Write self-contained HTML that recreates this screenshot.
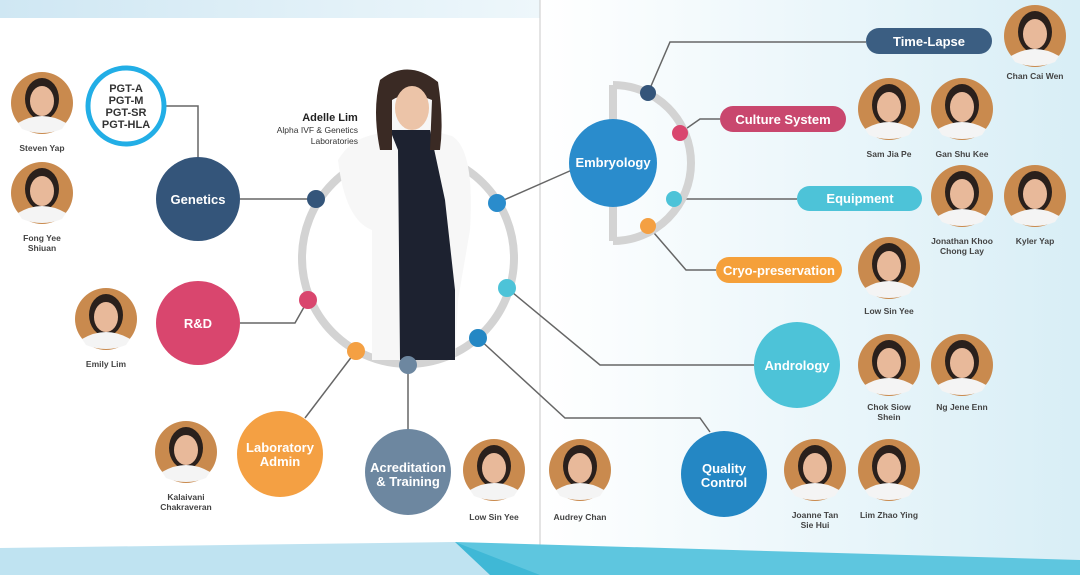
<!DOCTYPE html>
<html><head><style>
body{margin:0;width:1080px;height:575px;overflow:hidden;background:#fff;font-family:"Liberation Sans",sans-serif}
svg text{font-family:"Liberation Sans",sans-serif}
</style></head><body>
<svg width="1080" height="575" viewBox="0 0 1080 575" xmlns="http://www.w3.org/2000/svg">
<defs>
<linearGradient id="rg" x1="0" x2="1" y1="0" y2="0"><stop offset="0" stop-color="#fff"/><stop offset="1" stop-color="#d8eef6"/></linearGradient>
<linearGradient id="tg" x1="0" x2="1"><stop offset="0" stop-color="#cfe7f3"/><stop offset="1" stop-color="#eef7fb"/></linearGradient>
<g id="p"><circle r="31" fill="#c98a4e"/><ellipse cy="-4" rx="17" ry="21" fill="#2a201c"/><ellipse cy="-2" rx="12" ry="15" fill="#e8b99a"/><path d="M-24 20 Q0 6 24 20 L20 26 Q0 34 -20 26Z" fill="#f4f4f4"/></g>
</defs>
<rect x="540" y="0" width="540" height="575" fill="url(#rg)"/>
<rect x="0" y="0" width="540" height="18" fill="url(#tg)"/>
<line x1="540" y1="0" x2="540" y2="575" stroke="#c8c8c8" stroke-width="1"/>
<polygon points="0,548 455,542 540,575 0,575" fill="#bfe3f1"/>
<polygon points="455,542 1080,560 1080,575 510,575" fill="#5ec6df"/>
<polygon points="455,542 540,575 490,575" fill="#3fb8d6"/>
<!-- connectors -->
<g stroke="#666" stroke-width="1.5" fill="none">
<polyline points="166,106 198,106 198,157"/>
<line x1="240" y1="199" x2="316" y2="199"/>
<polyline points="240,323 295,323 308,300"/>
<line x1="305" y1="418" x2="356" y2="351"/>
<line x1="408" y1="430" x2="408" y2="365"/>
<line x1="497" y1="203" x2="572" y2="170"/>
<polyline points="507,288 600,365 754,365"/>
<polyline points="478,338 565,418 700,418 710,432"/>
<polyline points="648,93 670,42 866,42"/>
<polyline points="680,133 700,119 720,119"/>
<line x1="674" y1="199" x2="797" y2="199"/>
<polyline points="648,226 686,270 716,270"/>
</g>
<!-- central ring -->
<circle cx="408" cy="258" r="106" fill="none" stroke="#d3d3d3" stroke-width="8"/>
<!-- woman -->
<path d="M372 360 L372 230 Q345 220 338 160 Q350 140 372 135 L390 130 Q378 100 385 80 Q405 62 430 78 Q440 100 430 130 L452 136 Q475 150 470 230 L458 300 L455 360Z" fill="#f7f7f7"/>
<path d="M390 130 L398 150 L400 360 L455 360 L455 290 L445 200 L430 130Z" fill="#1d2230"/>
<path d="M380 80 Q408 58 438 82 Q444 120 440 150 L430 150 L432 100 Q408 90 392 100 L392 150 L380 150 Q372 110 380 80Z" fill="#3a2a24"/>
<ellipse cx="412" cy="108" rx="17" ry="22" fill="#ecc4a8"/>
<!-- embryology arc -->
<path d="M613 85 A78 78 0 0 1 613 241" fill="none" stroke="#d3d3d3" stroke-width="8"/>
<line x1="613" y1="85" x2="613" y2="241" stroke="#d3d3d3" stroke-width="8"/>
<!-- dots -->
<circle cx="316" cy="199" r="9" fill="#34557a"/>
<circle cx="308" cy="300" r="9" fill="#d9466e"/>
<circle cx="356" cy="351" r="9" fill="#f4a043"/>
<circle cx="408" cy="365" r="9" fill="#6d87a0"/>
<circle cx="478" cy="338" r="9" fill="#2487c4"/>
<circle cx="507" cy="288" r="9" fill="#4dc3d8"/>
<circle cx="497" cy="203" r="9" fill="#2a8ccc"/>
<circle cx="648" cy="93" r="8" fill="#34557a"/>
<circle cx="680" cy="133" r="8" fill="#d9466e"/>
<circle cx="674" cy="199" r="8" fill="#4dc3d8"/>
<circle cx="648" cy="226" r="8" fill="#f4a043"/>
<!-- main circles -->
<g font-weight="bold" fill="#fff" font-size="13" text-anchor="middle">
<circle cx="126" cy="106" r="38" fill="#fff" stroke="#22aee6" stroke-width="5"/>
<text x="126" y="92" fill="#333" font-size="11">PGT-A</text><text x="126" y="104" fill="#333" font-size="11">PGT-M</text><text x="126" y="116" fill="#333" font-size="11">PGT-SR</text><text x="126" y="128" fill="#333" font-size="11">PGT-HLA</text>
<circle cx="198" cy="199" r="42" fill="#34557a"/><text x="198" y="204">Genetics</text>
<circle cx="198" cy="323" r="42" fill="#d9466e"/><text x="198" y="328">R&amp;D</text>
<circle cx="280" cy="454" r="43" fill="#f4a043"/><text x="280" y="452">Laboratory</text><text x="280" y="466">Admin</text>
<circle cx="408" cy="472" r="43" fill="#6d87a0"/><text x="408" y="472">Acreditation</text><text x="408" y="486">&amp; Training</text>
<circle cx="613" cy="163" r="44" fill="#2a8ccc"/><text x="613" y="167">Embryology</text>
<circle cx="797" cy="365" r="43" fill="#4dc3d8"/><text x="797" y="370">Andrology</text>
<circle cx="724" cy="474" r="43" fill="#2487c4"/><text x="724" y="473">Quality</text><text x="724" y="487">Control</text>
<rect x="866" y="28" width="126" height="26" rx="13" fill="#3b5e82"/><text x="929" y="46">Time-Lapse</text>
<rect x="720" y="106" width="126" height="26" rx="13" fill="#c9476e"/><text x="783" y="124">Culture System</text>
<rect x="797" y="186" width="125" height="25" rx="12.5" fill="#4dc3d8"/><text x="860" y="203">Equipment</text>
<rect x="716" y="257" width="126" height="26" rx="13" fill="#f5a03a"/><text x="779" y="275">Cryo-preservation</text>
</g>
<text x="330" y="121" text-anchor="middle" font-size="11" font-weight="bold" fill="#222">Adelle Lim</text>
<text x="358" y="133" text-anchor="end" font-size="8.5" fill="#333">Alpha IVF &amp; Genetics</text>
<text x="358" y="144" text-anchor="end" font-size="8.5" fill="#333">Laboratories</text>
<!-- portraits -->
<use href="#p" x="42" y="103"/><use href="#p" x="42" y="193"/><use href="#p" x="106" y="319"/><use href="#p" x="186" y="452"/>
<use href="#p" x="494" y="470"/><use href="#p" x="580" y="470"/><use href="#p" x="815" y="470"/><use href="#p" x="889" y="470"/>
<use href="#p" x="889" y="365"/><use href="#p" x="962" y="365"/><use href="#p" x="889" y="268"/><use href="#p" x="962" y="196"/>
<use href="#p" x="1035" y="196"/><use href="#p" x="889" y="109"/><use href="#p" x="962" y="109"/><use href="#p" x="1035" y="36"/>
<g font-size="8.5" fill="#444" text-anchor="middle" font-weight="bold">
<text x="42" y="151">Steven Yap</text>
<text x="42" y="241">Fong Yee</text><text x="42" y="251">Shiuan</text>
<text x="106" y="367">Emily Lim</text>
<text x="186" y="500">Kalaivani</text><text x="186" y="510">Chakraveran</text>
<text x="494" y="520">Low Sin Yee</text>
<text x="580" y="520">Audrey Chan</text>
<text x="815" y="518">Joanne Tan</text><text x="815" y="528">Sie Hui</text>
<text x="889" y="518">Lim Zhao Ying</text>
<text x="889" y="410">Chok Siow</text><text x="889" y="420">Shein</text>
<text x="962" y="410">Ng Jene Enn</text>
<text x="889" y="314">Low Sin Yee</text>
<text x="962" y="244">Jonathan Khoo</text><text x="962" y="254">Chong Lay</text>
<text x="1035" y="244">Kyler Yap</text>
<text x="889" y="157">Sam Jia Pe</text>
<text x="962" y="157">Gan Shu Kee</text>
<text x="1035" y="79">Chan Cai Wen</text>
</g>
</svg>
</body></html>
